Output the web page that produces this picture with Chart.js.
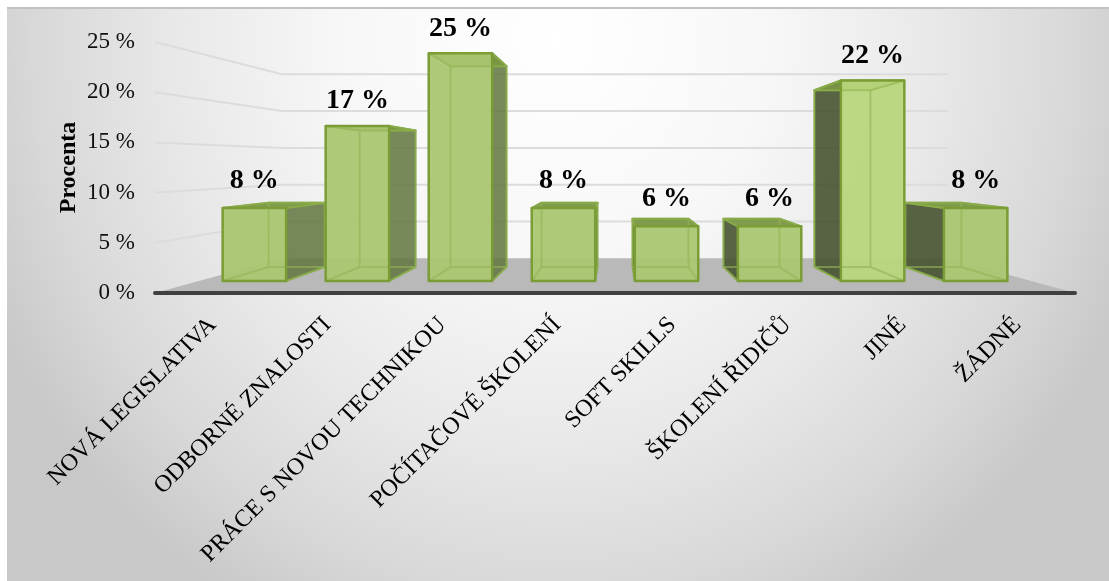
<!DOCTYPE html>
<html lang="cs">
<head>
<meta charset="utf-8">
<title>Procenta</title>
<script src="https://cdn.jsdelivr.net/npm/chart.js@4"></script>
<style>
    html, body { margin: 0; padding: 0; background: #fff; }
    #frame {
        position: absolute; left: 7px; top: 7px; width: 1102px; height: 574px;
        border-top: 2px solid #c2c2c2; box-sizing: border-box;
        background: radial-gradient(ellipse 620px 660px at 548px 30px, #fff 0%, #f7f7f7 35%, #e8e8e8 62%, #d8d8d8 84%, #c8c8c8 100%);
    }
    canvas { position: absolute; left: 0; top: 0; }
</style>
</head>
<body>
<div id="frame"></div>
<canvas id="graf" width="1109" height="581"></canvas>
<script>
const kategorie = ['NOVÁ LEGISLATIVA', 'ODBORNÉ ZNALOSTI', 'PRÁCE S NOVOU TECHNIKOU', 'POČÍTAČOVÉ ŠKOLENÍ',
    'SOFT SKILLS', 'ŠKOLENÍ ŘIDIČŮ', 'JINÉ', 'ŽÁDNÉ'];
const hodnoty = [8, 17, 25, 8, 6, 6, 22, 8];

// perspektiva: kazda rovina je zmenseni hlavnich os k uberne bode
const UBERNY_Y = 163;
const ROVINA_PREDNI = { sx: .896, sy: .908 };
const ROVINA_ZADNI = { sx: .791, sy: .80 };
const ROVINA_STENA = { sx: .724, sy: .733 };

const SERIF = '"Liberation Serif", "Times New Roman", serif';
const HRANA_ZADNI = 'rgba(146,180,86,.6)';

function rovina(chart, x, y, r) {
    const a = chart.chartArea;
    const vx = (a.left + a.right) / 2;
    return { x: vx + (x - vx) * r.sx, y: UBERNY_Y + (y - UBERNY_Y) * r.sy };
}

function plocha(ctx, body, fill, stroke, lw) {
    ctx.beginPath();
    body.forEach((b, i) => i ? ctx.lineTo(b.x, b.y) : ctx.moveTo(b.x, b.y));
    ctx.closePath();
    if (fill) { ctx.fillStyle = fill; ctx.fill(); }
    if (stroke) { ctx.strokeStyle = stroke; ctx.lineWidth = lw; ctx.lineJoin = 'round'; ctx.stroke(); }
}

function cara(ctx, a, b) {
    ctx.beginPath();
    ctx.moveTo(a.x, a.y);
    ctx.lineTo(b.x, b.y);
    ctx.stroke();
}

const scena = {
    id: 'scena',
    beforeDatasetsDraw(chart) {
        const { ctx, chartArea: a, scales: { y } } = chart;
        const nula = y.getPixelForValue(0);
        const sl = rovina(chart, a.left, nula, ROVINA_STENA);
        const sr = rovina(chart, a.right, nula, ROVINA_STENA);

        ctx.save();
        plocha(ctx, [{ x: a.left, y: nula }, sl, sr, { x: a.right, y: nula }], '#b9b9b9');

        ctx.strokeStyle = '#dcdcdc';
        ctx.lineWidth = 2;
        for (const t of y.ticks) {
            if (t.value === 0) continue;
            const py = y.getPixelForValue(t.value);
            const p = rovina(chart, a.left, py, ROVINA_STENA);
            const q = rovina(chart, a.right, py, ROVINA_STENA);
            ctx.beginPath();
            ctx.moveTo(a.left, py);
            ctx.lineTo(p.x, p.y);
            ctx.lineTo(q.x, q.y);
            ctx.stroke();
        }

        // osa x, az po podlaze
        ctx.strokeStyle = '#404040';
        ctx.lineWidth = 4;
        ctx.lineCap = 'round';
        ctx.beginPath();
        ctx.moveTo(a.left, nula);
        ctx.lineTo(a.right, nula);
        ctx.stroke();
        ctx.restore();
    },
    afterDatasetsDraw(chart) {
        const { ctx } = chart;
        const bars = chart.getDatasetMeta(0).data;
        // od kraju ke stredu, aby blizsi sloupce prekryly sousedni boky
        const poradi = [0, 7, 1, 6, 2, 5, 3, 4];

        ctx.save();
        for (const i of poradi) {
            const b = bars[i];
            const l = b.x - b.width / 2, r = b.x + b.width / 2;
            const f = (x, y) => rovina(chart, x, y, ROVINA_PREDNI);
            const z = (x, y) => rovina(chart, x, y, ROVINA_ZADNI);
            const fl = f(l, b.y), fr = f(r, b.y), fbr = f(r, b.base), fbl = f(l, b.base);
            const zl = z(l, b.y), zr = z(r, b.y), zbr = z(r, b.base), zbl = z(l, b.base);

            if (zr.x > fr.x) plocha(ctx, [fr, zr, zbr, fbr], 'rgba(96,116,62,.85)', '#7a9d36', 1.5);
            if (zl.x < fl.x) plocha(ctx, [fl, zl, zbl, fbl], 'rgba(66,80,42,.88)', '#7a9d36', 1.5);
            plocha(ctx, [fl, fr, zr, zl], 'rgba(122,150,70,.95)', '#7a9d36', 2);

            plocha(ctx, [fl, fr, fbr, fbl], i === 6 ? 'rgba(184,214,124,.95)' : 'rgba(170,198,112,.95)');

            // zadni hrany prosvitaji prednim celem
            ctx.strokeStyle = HRANA_ZADNI;
            ctx.lineWidth = 2;
            plocha(ctx, [zl, zr, zbr, zbl], null, HRANA_ZADNI, 2);
            cara(ctx, fl, zl);
            cara(ctx, fr, zr);
            cara(ctx, fbl, zbl);
            cara(ctx, fbr, zbr);

            plocha(ctx, [fl, fr, fbr, fbl], null, '#7a9d36', 2.5);

            ctx.fillStyle = '#000';
            ctx.font = `bold 28px ${SERIF}`;
            ctx.textAlign = 'center';
            ctx.textBaseline = 'middle';
            ctx.fillText(`${hodnoty[i]} %`, (fl.x + fr.x) / 2, fl.y - 28 + hodnoty[i] * .13);
        }
        ctx.restore();
    }
};

new Chart(document.getElementById('graf'), {
    type: 'bar',
    data: {
        labels: kategorie,
        datasets: [{
            label: 'Procenta',
            data: hodnoty,
            backgroundColor: 'rgba(0,0,0,0)',
            borderWidth: 0,
            barPercentage: .616,
            categoryPercentage: 1
        }]
    },
    plugins: [scena],
    options: {
        responsive: false,
        animation: false,
        layout: { padding: { left: 0, right: 34, top: 42, bottom: 0 } },
        plugins: { legend: { display: false }, title: { display: false }, tooltip: { enabled: false } },
        scales: {
            x: {
                grid: { display: false },
                border: { display: false },
                ticks: {
                    autoSkip: false, minRotation: 45, maxRotation: 45, padding: 10,
                    color: '#000', font: { family: SERIF, size: 24 }
                },
                afterFit(s) { s.height = 288; }
            },
            y: {
                min: 0,
                max: 25,
                grid: { display: false },
                border: { display: false },
                ticks: {
                    stepSize: 5, padding: 12, color: '#111',
                    font: { family: SERIF, size: 23 },
                    callback: v => `${v} %`
                },
                title: {
                    display: true, text: 'Procenta', color: '#000',
                    font: { family: SERIF, size: 24, weight: 'bold' },
                    padding: { top: 54, bottom: 0 }
                },
                afterFit(s) { s.width = 155; }
            }
        }
    }
});
</script>
</body>
</html>
